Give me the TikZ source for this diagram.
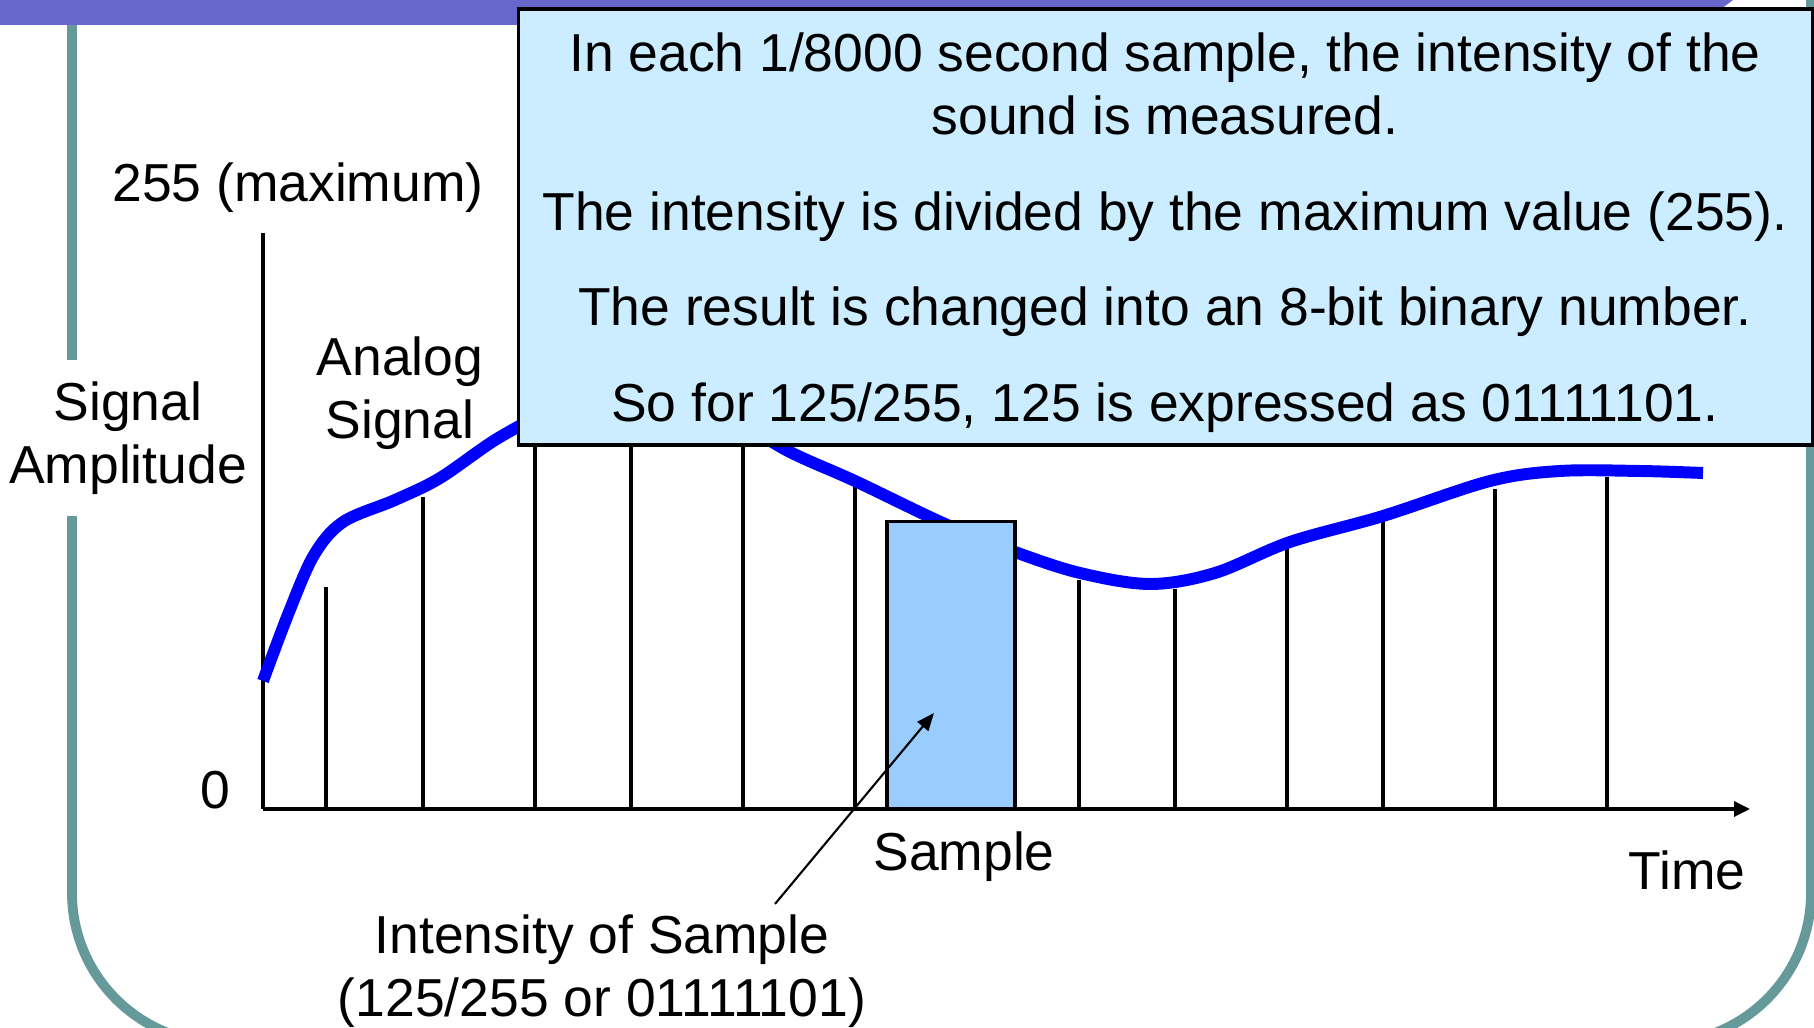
\documentclass[tikz,border=0pt]{standalone}
\usepackage{fontspec}
\setmainfont{Liberation Sans}
\usetikzlibrary{arrows.meta, positioning}
\definecolor{framegreen}{RGB}{102,153,153}
\definecolor{barpurple}{RGB}{102,102,204}
\definecolor{notefill}{RGB}{204,236,255}
\definecolor{samplefill}{RGB}{153,204,255}
\definecolor{signalblue}{RGB}{0,0,255}

\begin{document}
\begin{tikzpicture}[
    x=0.01cm, y=-0.01cm,
    txt/.style={font=\fontsize{15.2}{18}\selectfont, inner sep=2pt, align=center},
    frameline/.style={draw=framegreen, line width=2.8pt, rounded corners=1.5cm},
    axis/.style={line width=1pt},
    tick/.style={line width=1pt},
    signal/.style={draw=signalblue, line width=3.4pt},
    notebox/.style={draw, line width=1pt, fill=notefill, minimum width=12.93cm, minimum height=4.36cm, inner sep=0pt},
    samplebox/.style={draw, line width=0.9pt, fill=samplefill, minimum width=1.28cm, minimum height=2.87cm, inner sep=0pt},
    pointer/.style={-{Triangle[length=5pt, width=4pt]}, line width=0.6pt},
]
\useasboundingbox (0,0) rectangle (1814,1028);
\clip (0,0) rectangle (1814,1028);

% Slide frame and title bar
\draw[frameline] (72,-60) -- (72,1043) -- (1811,1043) -- (1811,-60);
\fill[barpurple] (0,0) -- (1733,0) -- (1700,25) -- (0,25) -- cycle;

% Axes
\coordinate (origin) at (263,809);
\draw[axis] (263,233) -- (origin);
\draw[axis, -{Triangle[length=4.5pt, width=4.2pt]}] (origin) -- (1750,809);

% Sample lines
\foreach \tx/\ty in {326/587, 423/497, 535/430, 631/420, 743/440, 855/487,
                     1079/580, 1175/589, 1287/549, 1383/521, 1495/489, 1607/477}
    \draw[tick] (\tx,809) -- (\tx,\ty);

% Analog signal
\draw[signal] plot[smooth, tension=0.55] coordinates {(263,681) (289,612) (314,555)
    (343,522) (395,500) (440,478) (500,437) (560,408) (640,393) (720,413) (790,452)
    (855,481) (945,524) (1015,552) (1080,573) (1150,584) (1215,573) (1290,542)
    (1383,516) (1490,481) (1560,471) (1640,471) (1703,473)};

% Highlighted sample
\node[samplebox] (sample) at (951,665.5) {};

% Explanation box
\node[notebox] (note) at (1165.5,227) {};
\node[txt] (notetext) at (1165,232.5) {In each 1/8000 second sample, the intensity of the\\
    sound is measured.\\[9.2pt]
    The intensity is divided by the maximum value (255).\\[9.2pt]
    The result is changed into an 8-bit binary number.\\[9.2pt]
    So for 125/255, 125 is expressed as 01111101.};

% Labels
\node[txt, anchor=base] (maxlabel) at (298,202) {255 (maximum)};
\node[txt] (analog) at (400,393) {Analog\\Signal};
\node[txt, fill=white, inner ysep=6pt] (amplitude) at (128,438) {Signal\\Amplitude};
\node[txt, anchor=base] (zero) at (215,809) {0};
\node[txt, anchor=base] (samplelabel) at (964,871) {Sample};
\node[txt, anchor=base] (timelabel) at (1687,890) {Time};
\node[txt] (intensity) at (602,971) {Intensity of Sample\\(125/255 or 01111101)};

% Pointer into the sample
\coordinate (pointfoot) at (775,904);
\coordinate (pointtip) at (934,713);
\draw[pointer] (pointfoot) -- (pointtip);

\end{tikzpicture}
\end{document}
